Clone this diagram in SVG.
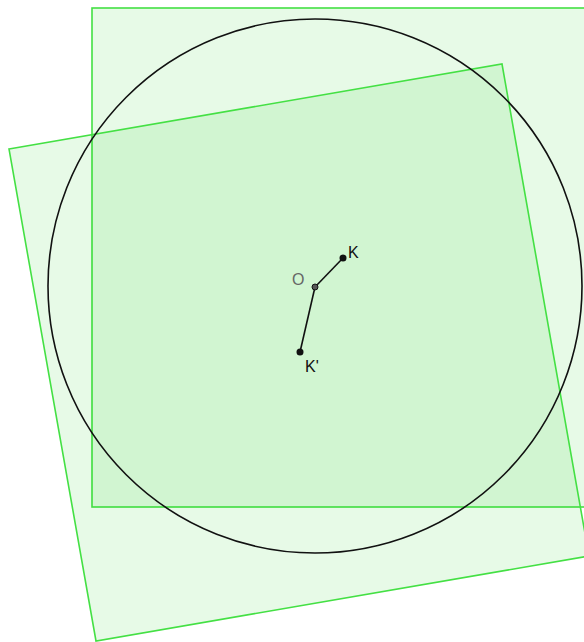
<svg xmlns="http://www.w3.org/2000/svg" width="584" height="642" viewBox="0 0 584 642">
<style>
.sq{fill:#11cc11;fill-opacity:0.1;stroke:#44e044;stroke-width:1.6}
.ln{stroke:#111;stroke-width:1.6;fill:none}
.pt{fill:#111}
.lb{font-family:"Liberation Sans",Arial,sans-serif;font-size:16px;fill:#111}
</style>
<rect width="584" height="642" fill="#fff"/>
<g id="square1"><rect class="sq" x="92" y="8" width="498" height="499"/></g>
<g id="square2"><polygon class="sq" points="9,149 502,64 589,556 96,641"/></g>
<g id="circle"><circle class="ln" cx="315" cy="286" r="267"/></g>
<g id="connectors">
<line class="ln" x1="315" y1="287" x2="343" y2="258"/>
<line class="ln" x1="315" y1="287" x2="300" y2="352"/>
</g>
<g id="O"><circle cx="315" cy="287" r="3" fill="#555" stroke="#111" stroke-width="1"/><text class="lb" x="292" y="285" style="fill:#666">O</text></g>
<g id="K"><circle class="pt" cx="343" cy="258" r="3.5"/><text class="lb" x="348" y="258">K</text></g>
<g id="Kp"><circle class="pt" cx="300" cy="352" r="3.5"/><text class="lb" x="305" y="372">K'</text></g>
</svg>
